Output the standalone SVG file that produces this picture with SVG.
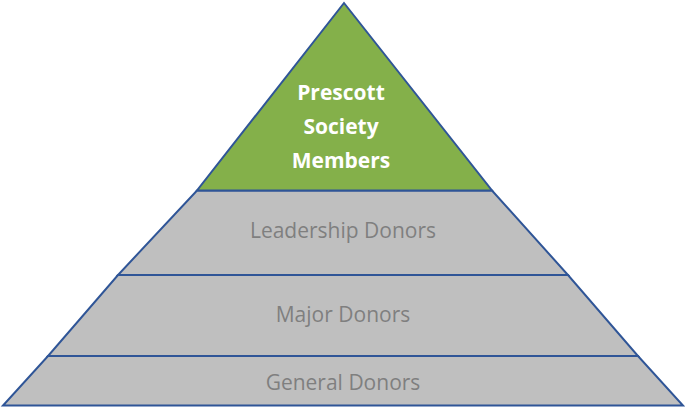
<svg xmlns="http://www.w3.org/2000/svg" width="685" height="408" viewBox="0 0 685 408">
<style>
.layer{stroke:#2f5597;stroke-width:2;stroke-linejoin:miter}
.grey{fill:#bfbfbf}
.green{fill:#84b04a}
.lbl{font-family:"Open Sans","Liberation Sans",sans-serif;font-size:21px;fill:#7f7f7f;text-anchor:middle}
.top{font-family:"Open Sans","Liberation Sans",sans-serif;font-size:21px;font-weight:bold;fill:#ffffff;text-anchor:middle}
</style>
<rect width="685" height="408" fill="#ffffff"/>
<g id="general">
<polygon class="layer grey" points="48,356 638,356 683,405.5 3,405.5"/>
<text class="lbl" x="343" y="390">General Donors</text>
</g>
<g id="major">
<polygon class="layer grey" points="118,275 568,275 638,356 48,356"/>
<text class="lbl" x="343" y="322">Major Donors</text>
</g>
<g id="leadership">
<polygon class="layer grey" points="197,190.5 492,190.5 568,275 118,275"/>
<text class="lbl" x="343" y="238">Leadership Donors</text>
</g>
<g id="prescott">
<polygon class="layer green" points="344,3 492,190.5 197,190.5"/>
<text class="top" x="341" y="100">Prescott</text>
<text class="top" x="341" y="134">Society</text>
<text class="top" x="341" y="168">Members</text>
</g>
<g id="connectors"></g>
</svg>
